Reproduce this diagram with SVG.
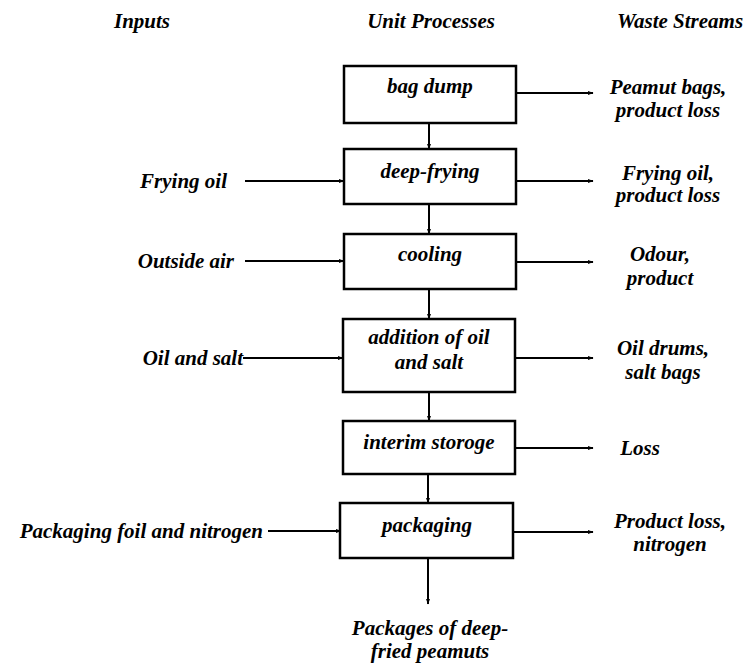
<svg xmlns="http://www.w3.org/2000/svg" width="743" height="664" viewBox="0 0 743 664">
<style>
text{font-family:"Liberation Serif","Times New Roman",serif;font-style:italic;font-weight:bold;font-size:21px;fill:#000}
.box{fill:#fff;stroke:#000;stroke-width:2.5}
.c{fill:none;stroke:#000;stroke-width:2;marker-end:url(#ah)}
.m{text-anchor:middle}
</style>
<defs>
<marker id="ah" viewBox="0 0 10 10" refX="9" refY="5" markerWidth="6" markerHeight="6" orient="auto" markerUnits="userSpaceOnUse">
<path d="M0,1.5 L10,5 L0,8.5 Z" fill="#000"/>
</marker>
</defs>
<g id="headers">
<text x="142" y="28" class="m">Inputs</text>
<text x="431" y="28" class="m">Unit Processes</text>
<text x="680" y="28" class="m">Waste Streams</text>
</g>
<g id="connectors">
<line class="c" x1="429" y1="123" x2="429" y2="149"/>
<line class="c" x1="429" y1="204" x2="429" y2="234"/>
<line class="c" x1="429" y1="289" x2="429" y2="319"/>
<line class="c" x1="429" y1="392" x2="429" y2="421"/>
<line class="c" x1="428" y1="474" x2="428" y2="503"/>
<line class="c" x1="428" y1="558" x2="428" y2="604"/>
<line class="c" x1="245" y1="181" x2="344" y2="181"/>
<line class="c" x1="245" y1="261" x2="344" y2="261"/>
<line class="c" x1="243" y1="358" x2="343" y2="358"/>
<line class="c" x1="268" y1="531" x2="341" y2="531"/>
<line class="c" x1="516" y1="93" x2="593" y2="93"/>
<line class="c" x1="516" y1="181" x2="593" y2="181"/>
<line class="c" x1="516" y1="262" x2="593" y2="262"/>
<line class="c" x1="515" y1="358" x2="593" y2="358"/>
<line class="c" x1="515" y1="448" x2="593" y2="448"/>
<line class="c" x1="513" y1="532" x2="593" y2="532"/>
</g>
<g id="bag-dump"><rect class="box" x="344" y="66" width="172" height="57"/><text x="430" y="93" class="m">bag dump</text></g>
<g id="deep-frying"><rect class="box" x="344" y="149" width="172" height="55"/><text x="430" y="178" class="m">deep-frying</text></g>
<g id="cooling"><rect class="box" x="344" y="234" width="172" height="55"/><text x="430" y="261" class="m">cooling</text></g>
<g id="addition"><rect class="box" x="343" y="319" width="172" height="73"/><text x="429" y="344" class="m">addition of oil</text><text x="429" y="369" class="m">and salt</text></g>
<g id="interim-storage"><rect class="box" x="343" y="421" width="172" height="53"/><text x="429" y="449" class="m">interim storoge</text></g>
<g id="packaging"><rect class="box" x="340" y="503" width="173" height="55"/><text x="427" y="532" class="m">packaging</text></g>
<g id="inputs">
<text x="227" y="188" text-anchor="end">Frying oil</text>
<text x="234" y="268" text-anchor="end">Outside air</text>
<text x="243" y="365" text-anchor="end">Oil and salt</text>
<text x="263" y="538" text-anchor="end">Packaging foil and nitrogen</text>
</g>
<g id="wastes">
<text x="668" y="94" class="m">Peamut bags,</text><text x="668" y="117" class="m">product loss</text>
<text x="668" y="180" class="m">Frying oil,</text><text x="668" y="202" class="m">product loss</text>
<text x="660" y="261" class="m">Odour,</text><text x="660" y="285" class="m">product</text>
<text x="663" y="355" class="m">Oil drums,</text><text x="663" y="379" class="m">salt bags</text>
<text x="640" y="455" class="m">Loss</text>
<text x="670" y="528" class="m">Product loss,</text><text x="670" y="551" class="m">nitrogen</text>
</g>
<g id="output">
<text x="430" y="635" class="m">Packages of deep-</text>
<text x="430" y="658" class="m">fried peamuts</text>
</g>
</svg>
